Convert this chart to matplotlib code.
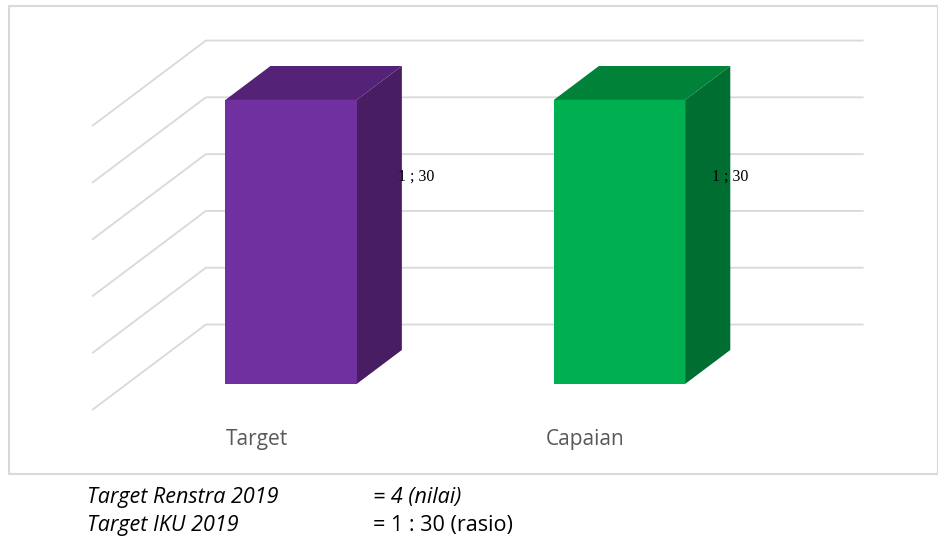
import matplotlib.pyplot as plt
from matplotlib.patches import Polygon, Rectangle

categories = ["Target", "Capaian"]
values = [1.0, 1.0]
value_labels = ["1 ; 30", "1 ; 30"]
grid_values = [0.0, 0.2, 0.4, 0.6, 0.8, 1.0]

front_colors = ["#7030A0", "#00B050"]
top_colors = ["#542377", "#008238"]
side_colors = ["#481D62", "#006E30"]

note_left = ["Target Renstra 2019", "Target IKU 2019"]
note_right = ["= 4 (nilai)", "= 1 : 30 (rasio)"]
note_right_style = ["italic", "normal"]

# oblique projection: depth z in [0, 1], bars sit between z=0.3 and z=0.7
kx, ky = 0.344, 0.299
zf, zb = 0.3, 0.7
bar_w = 0.4


def proj(x, v, z):
    return (x + kx * (z - zf), v + ky * (z - zf))


fig = plt.figure(figsize=(9.38, 5.41), dpi=100)
ax = fig.add_axes([0, 0, 1, 1])
ax.set_xlim(-0.886, 1.970)
ax.set_ylim(-0.553, 1.352)
ax.axis("off")

grid_c = "#D9D9D9"
x_left, x_right = -0.5, len(categories) - 0.5
for g in grid_values:
    p0 = proj(x_left, g, 0)
    p1 = proj(x_left, g, 1)
    p2 = proj(x_right, g, 1)
    ax.plot([p0[0], p1[0], p2[0]], [p0[1], p1[1], p2[1]], color=grid_c, lw=1.3, zorder=1)

for i, (cat, v) in enumerate(zip(categories, values)):
    xl, xr = i - bar_w / 2, i + bar_w / 2
    front = [proj(xl, 0, zf), proj(xr, 0, zf), proj(xr, v, zf), proj(xl, v, zf)]
    top = [proj(xl, v, zf), proj(xr, v, zf), proj(xr, v, zb), proj(xl, v, zb)]
    side = [proj(xr, 0, zf), proj(xr, 0, zb), proj(xr, v, zb), proj(xr, v, zf)]
    ax.add_patch(Polygon(side, closed=True, fc=side_colors[i], ec="none", zorder=3))
    ax.add_patch(Polygon(top, closed=True, fc=top_colors[i], ec="none", zorder=3))
    ax.add_patch(Polygon(front, closed=True, fc=front_colors[i], ec="none", zorder=4))

    # data label near the side face
    lx, ly = proj(xr, v * 0.61, zb)
    nudge = 0.045 if i == 0 else 0.0
    ax.text(lx + nudge, ly, value_labels[i], ha="center", va="center",
            fontsize=11.5, family="Liberation Serif", color="black", zorder=5)

    cx, cy = proj(i, -0.107, 0)
    ax.text(cx, cy, cat, ha="center", va="center", fontsize=15,
            family="Open Sans", color="#595959")

fig.add_artist(Rectangle((9 / 938, 1 - 474 / 541), 929 / 938, 468 / 541,
                         transform=fig.transFigure, fill=False,
                         ec=grid_c, lw=1.5))

for k in range(len(note_left)):
    y = 1 - (498 + 28 * k) / 541
    fig.text(87 / 938, y, note_left[k], ha="left", va="center", fontsize=15.5,
             family="Open Sans", style="italic", color="black")
    fig.text(373 / 938, y, note_right[k], ha="left", va="center", fontsize=15.5,
             family="Open Sans", style=note_right_style[k], color="black")

fig.savefig("out.png", dpi=100)
